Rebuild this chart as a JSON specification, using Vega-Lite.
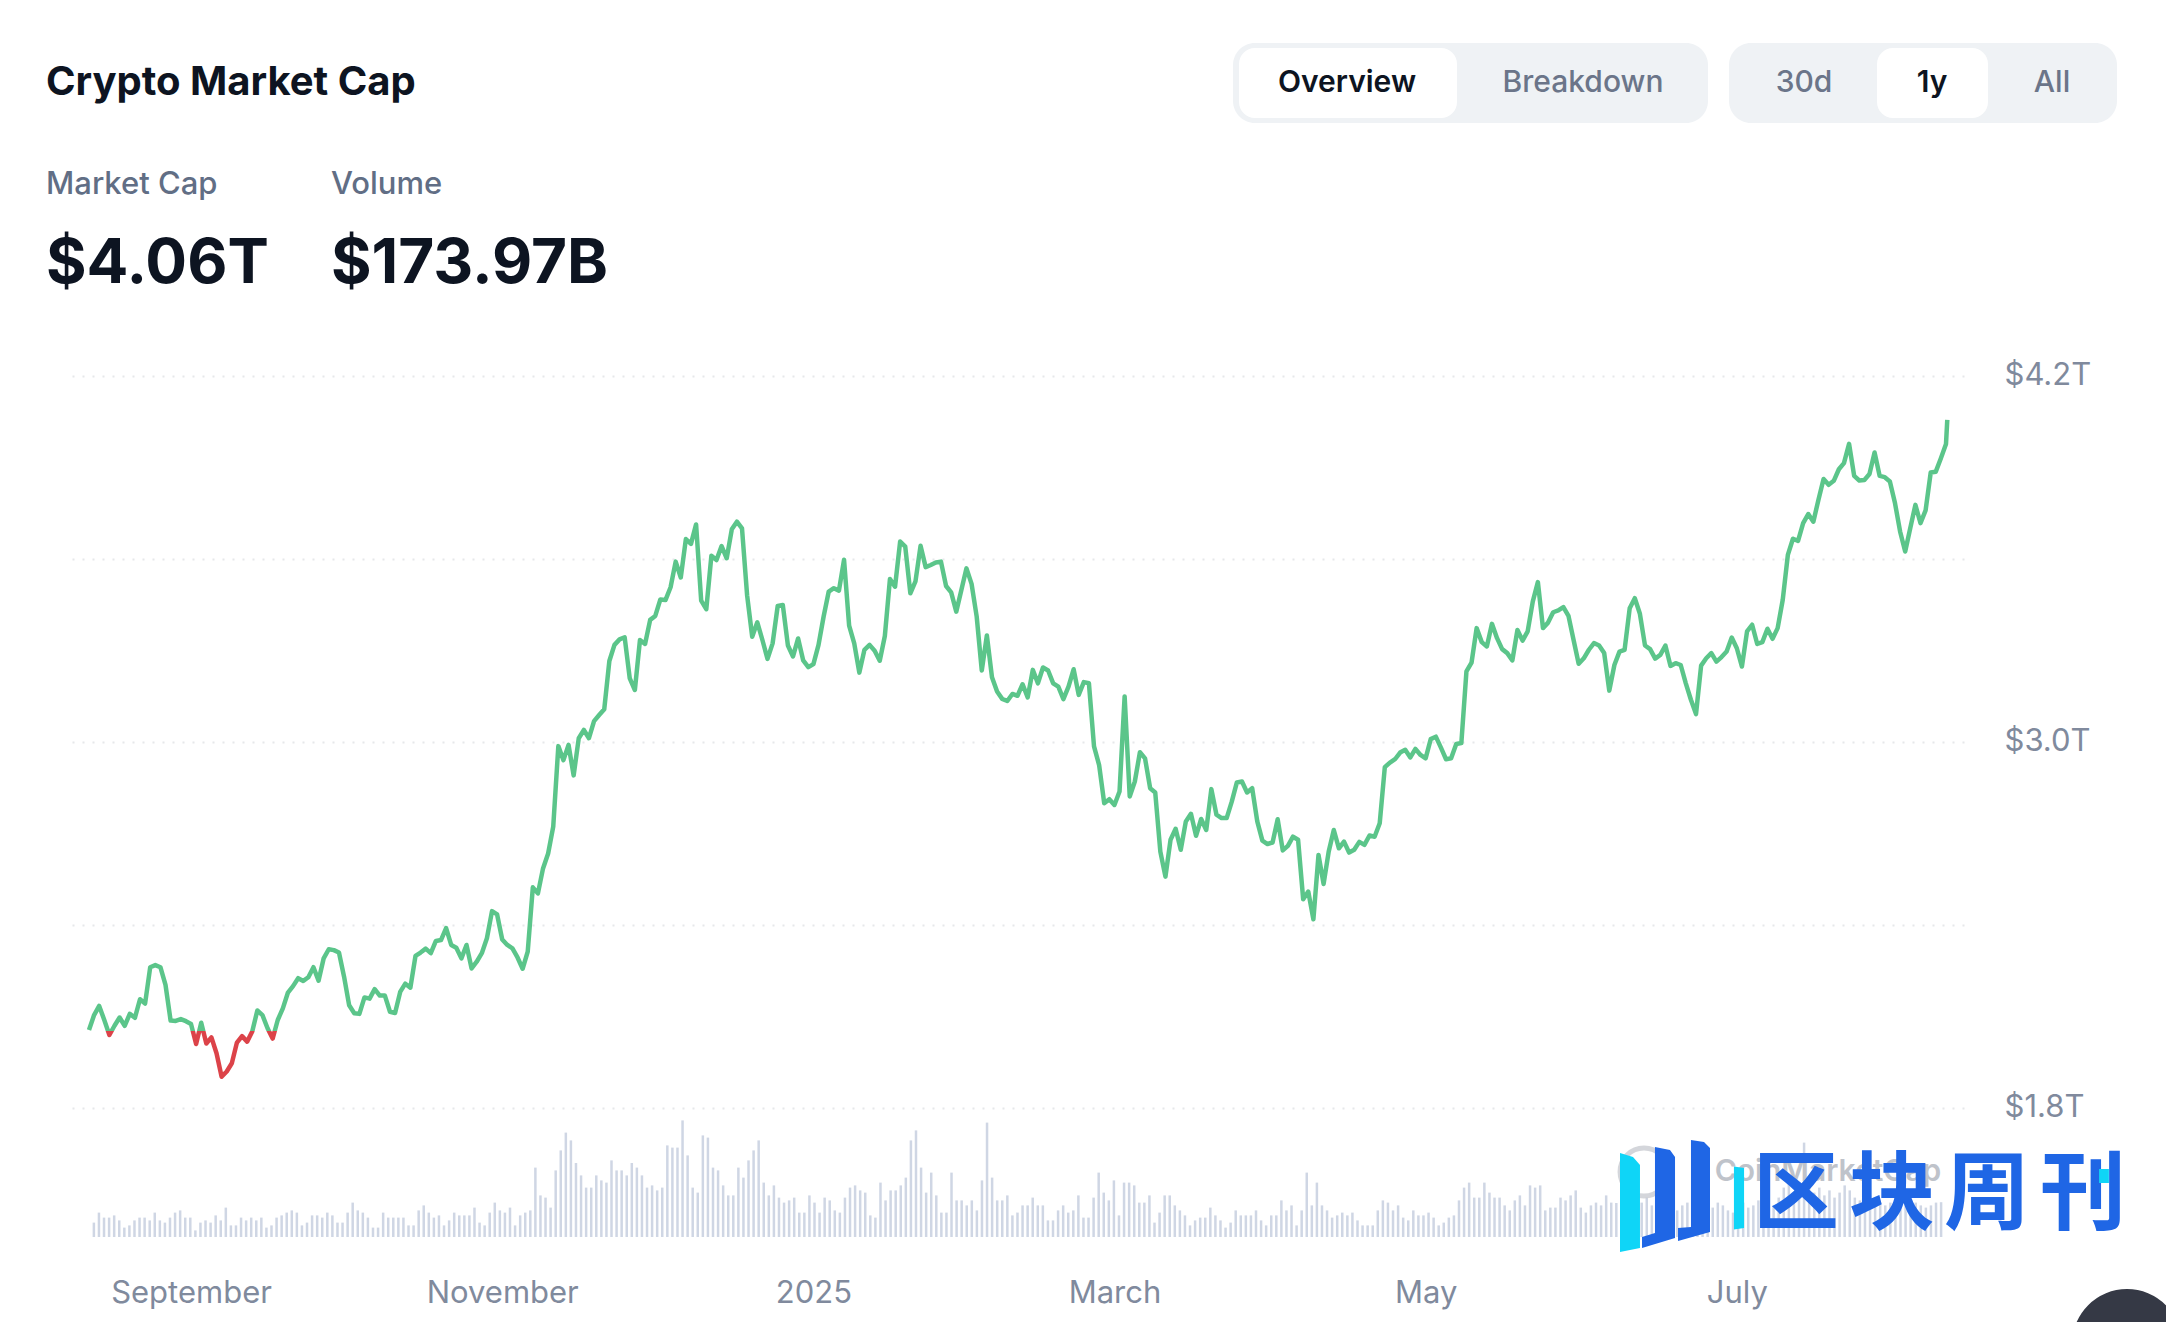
{
  "$schema": "https://vega.github.io/schema/vega-lite/v6.json",
  "width": 1895,
  "height": 1237,
  "autosize": "none",
  "padding": {"left": 69, "top": 0, "right": 202, "bottom": 85},
  "background": "#ffffff",
  "datasets": {
    "market": [
      {"date":"2024-08-12","cap":2.054,"vol":72},{"date":"2024-08-13","cap":2.103,"vol":122},{"date":"2024-08-14","cap":2.133,"vol":97},{"date":"2024-08-15","cap":2.087,"vol":97},{"date":"2024-08-16","cap":2.038,"vol":108},{"date":"2024-08-17","cap":2.068,"vol":83},{"date":"2024-08-18","cap":2.095,"vol":47},{"date":"2024-08-19","cap":2.068,"vol":58},{"date":"2024-08-20","cap":2.107,"vol":83},{"date":"2024-08-21","cap":2.094,"vol":97},{"date":"2024-08-22","cap":2.155,"vol":97},{"date":"2024-08-23","cap":2.141,"vol":83},{"date":"2024-08-24","cap":2.26,"vol":122},{"date":"2024-08-25","cap":2.267,"vol":83},{"date":"2024-08-26","cap":2.26,"vol":72},{"date":"2024-08-27","cap":2.202,"vol":97},{"date":"2024-08-28","cap":2.085,"vol":122},{"date":"2024-08-29","cap":2.084,"vol":133},{"date":"2024-08-30","cap":2.09,"vol":97},{"date":"2024-08-31","cap":2.083,"vol":97},
      {"date":"2024-09-01","cap":2.074,"vol":33},{"date":"2024-09-02","cap":2.008,"vol":72},{"date":"2024-09-03","cap":2.078,"vol":83},{"date":"2024-09-04","cap":2.01,"vol":72},{"date":"2024-09-05","cap":2.03,"vol":108},{"date":"2024-09-06","cap":1.978,"vol":83},{"date":"2024-09-07","cap":1.901,"vol":147},{"date":"2024-09-08","cap":1.918,"vol":58},{"date":"2024-09-09","cap":1.945,"vol":58},{"date":"2024-09-10","cap":2.013,"vol":97},{"date":"2024-09-11","cap":2.034,"vol":83},{"date":"2024-09-12","cap":2.016,"vol":97},{"date":"2024-09-13","cap":2.049,"vol":83},{"date":"2024-09-14","cap":2.118,"vol":97},{"date":"2024-09-15","cap":2.103,"vol":47},{"date":"2024-09-16","cap":2.06,"vol":58},{"date":"2024-09-17","cap":2.026,"vol":97},{"date":"2024-09-18","cap":2.087,"vol":108},{"date":"2024-09-19","cap":2.125,"vol":122},{"date":"2024-09-20","cap":2.177,"vol":133},{"date":"2024-09-21","cap":2.198,"vol":122},{"date":"2024-09-22","cap":2.224,"vol":58},{"date":"2024-09-23","cap":2.215,"vol":72},{"date":"2024-09-24","cap":2.227,"vol":108},{"date":"2024-09-25","cap":2.26,"vol":108},{"date":"2024-09-26","cap":2.216,"vol":97},{"date":"2024-09-27","cap":2.289,"vol":122},{"date":"2024-09-28","cap":2.319,"vol":108},{"date":"2024-09-29","cap":2.316,"vol":72},{"date":"2024-09-30","cap":2.308,"vol":72},
      {"date":"2024-10-01","cap":2.229,"vol":122},{"date":"2024-10-02","cap":2.135,"vol":172},{"date":"2024-10-03","cap":2.109,"vol":133},{"date":"2024-10-04","cap":2.107,"vol":122},{"date":"2024-10-05","cap":2.161,"vol":97},{"date":"2024-10-06","cap":2.157,"vol":47},{"date":"2024-10-07","cap":2.188,"vol":47},{"date":"2024-10-08","cap":2.167,"vol":122},{"date":"2024-10-09","cap":2.167,"vol":97},{"date":"2024-10-10","cap":2.114,"vol":97},{"date":"2024-10-11","cap":2.11,"vol":97},{"date":"2024-10-12","cap":2.179,"vol":97},{"date":"2024-10-13","cap":2.206,"vol":58},{"date":"2024-10-14","cap":2.193,"vol":58},{"date":"2024-10-15","cap":2.297,"vol":133},{"date":"2024-10-16","cap":2.308,"vol":158},{"date":"2024-10-17","cap":2.321,"vol":122},{"date":"2024-10-18","cap":2.306,"vol":97},{"date":"2024-10-19","cap":2.346,"vol":108},{"date":"2024-10-20","cap":2.349,"vol":58},{"date":"2024-10-21","cap":2.388,"vol":83},{"date":"2024-10-22","cap":2.333,"vol":122},{"date":"2024-10-23","cap":2.324,"vol":108},{"date":"2024-10-24","cap":2.289,"vol":108},{"date":"2024-10-25","cap":2.333,"vol":108},{"date":"2024-10-26","cap":2.256,"vol":147},{"date":"2024-10-27","cap":2.278,"vol":72},{"date":"2024-10-28","cap":2.306,"vol":58},{"date":"2024-10-29","cap":2.355,"vol":122},{"date":"2024-10-30","cap":2.444,"vol":172},{"date":"2024-10-31","cap":2.433,"vol":133},
      {"date":"2024-11-01","cap":2.351,"vol":122},{"date":"2024-11-02","cap":2.333,"vol":147},{"date":"2024-11-03","cap":2.322,"vol":58},{"date":"2024-11-04","cap":2.292,"vol":108},{"date":"2024-11-05","cap":2.255,"vol":122},{"date":"2024-11-06","cap":2.311,"vol":133},{"date":"2024-11-07","cap":2.522,"vol":347},{"date":"2024-11-08","cap":2.502,"vol":208},{"date":"2024-11-09","cap":2.584,"vol":197},{"date":"2024-11-10","cap":2.633,"vol":147},{"date":"2024-11-11","cap":2.721,"vol":333},{"date":"2024-11-12","cap":2.985,"vol":433},{"date":"2024-11-13","cap":2.939,"vol":522},{"date":"2024-11-14","cap":2.989,"vol":483},{"date":"2024-11-15","cap":2.889,"vol":370},{"date":"2024-11-16","cap":3.011,"vol":308},{"date":"2024-11-17","cap":3.038,"vol":247},{"date":"2024-11-18","cap":3.011,"vol":247},{"date":"2024-11-19","cap":3.067,"vol":308},{"date":"2024-11-20","cap":3.087,"vol":283},{"date":"2024-11-21","cap":3.106,"vol":272},{"date":"2024-11-22","cap":3.264,"vol":383},{"date":"2024-11-23","cap":3.317,"vol":333},{"date":"2024-11-24","cap":3.335,"vol":333},{"date":"2024-11-25","cap":3.342,"vol":308},{"date":"2024-11-26","cap":3.207,"vol":370},{"date":"2024-11-27","cap":3.169,"vol":347},{"date":"2024-11-28","cap":3.333,"vol":308},{"date":"2024-11-29","cap":3.32,"vol":247},{"date":"2024-11-30","cap":3.399,"vol":258},
      {"date":"2024-12-01","cap":3.412,"vol":233},{"date":"2024-12-02","cap":3.466,"vol":247},{"date":"2024-12-03","cap":3.464,"vol":458},{"date":"2024-12-04","cap":3.506,"vol":447},{"date":"2024-12-05","cap":3.59,"vol":447},{"date":"2024-12-06","cap":3.538,"vol":583},{"date":"2024-12-07","cap":3.664,"vol":408},{"date":"2024-12-08","cap":3.648,"vol":247},{"date":"2024-12-09","cap":3.712,"vol":222},{"date":"2024-12-10","cap":3.462,"vol":508},{"date":"2024-12-11","cap":3.434,"vol":497},{"date":"2024-12-12","cap":3.609,"vol":347},{"date":"2024-12-13","cap":3.595,"vol":333},{"date":"2024-12-14","cap":3.641,"vol":258},{"date":"2024-12-15","cap":3.601,"vol":208},{"date":"2024-12-16","cap":3.696,"vol":208},{"date":"2024-12-17","cap":3.721,"vol":347},{"date":"2024-12-18","cap":3.699,"vol":297},{"date":"2024-12-19","cap":3.48,"vol":383},{"date":"2024-12-20","cap":3.344,"vol":433},{"date":"2024-12-21","cap":3.391,"vol":483},{"date":"2024-12-22","cap":3.333,"vol":272},{"date":"2024-12-23","cap":3.271,"vol":208},{"date":"2024-12-24","cap":3.322,"vol":258},{"date":"2024-12-25","cap":3.445,"vol":197},{"date":"2024-12-26","cap":3.448,"vol":172},{"date":"2024-12-27","cap":3.315,"vol":183},{"date":"2024-12-28","cap":3.279,"vol":197},{"date":"2024-12-29","cap":3.338,"vol":122},{"date":"2024-12-30","cap":3.266,"vol":122},{"date":"2024-12-31","cap":3.244,"vol":208},
      {"date":"2025-01-01","cap":3.254,"vol":172},{"date":"2025-01-02","cap":3.317,"vol":122},{"date":"2025-01-03","cap":3.41,"vol":197},{"date":"2025-01-04","cap":3.492,"vol":183},{"date":"2025-01-05","cap":3.503,"vol":133},{"date":"2025-01-06","cap":3.495,"vol":122},{"date":"2025-01-07","cap":3.596,"vol":197},{"date":"2025-01-08","cap":3.38,"vol":247},{"date":"2025-01-09","cap":3.322,"vol":258},{"date":"2025-01-10","cap":3.226,"vol":233},{"date":"2025-01-11","cap":3.301,"vol":222},{"date":"2025-01-12","cap":3.317,"vol":108},{"date":"2025-01-13","cap":3.298,"vol":97},{"date":"2025-01-14","cap":3.265,"vol":272},{"date":"2025-01-15","cap":3.346,"vol":183},{"date":"2025-01-16","cap":3.533,"vol":233},{"date":"2025-01-17","cap":3.508,"vol":233},{"date":"2025-01-18","cap":3.656,"vol":258},{"date":"2025-01-19","cap":3.639,"vol":297},{"date":"2025-01-20","cap":3.486,"vol":483},{"date":"2025-01-21","cap":3.525,"vol":533},{"date":"2025-01-22","cap":3.642,"vol":347},{"date":"2025-01-23","cap":3.572,"vol":222},{"date":"2025-01-24","cap":3.579,"vol":322},{"date":"2025-01-25","cap":3.587,"vol":208},{"date":"2025-01-26","cap":3.59,"vol":122},{"date":"2025-01-27","cap":3.51,"vol":122},{"date":"2025-01-28","cap":3.489,"vol":322},{"date":"2025-01-29","cap":3.426,"vol":183},{"date":"2025-01-30","cap":3.497,"vol":183},{"date":"2025-01-31","cap":3.568,"vol":158},
      {"date":"2025-02-01","cap":3.517,"vol":183},{"date":"2025-02-02","cap":3.41,"vol":133},{"date":"2025-02-03","cap":3.233,"vol":283},{"date":"2025-02-04","cap":3.348,"vol":572},{"date":"2025-02-05","cap":3.211,"vol":297},{"date":"2025-02-06","cap":3.164,"vol":183},{"date":"2025-02-07","cap":3.14,"vol":183},{"date":"2025-02-08","cap":3.133,"vol":208},{"date":"2025-02-09","cap":3.156,"vol":108},{"date":"2025-02-10","cap":3.15,"vol":122},{"date":"2025-02-11","cap":3.188,"vol":158},{"date":"2025-02-12","cap":3.145,"vol":158},{"date":"2025-02-13","cap":3.235,"vol":197},{"date":"2025-02-14","cap":3.191,"vol":158},{"date":"2025-02-15","cap":3.243,"vol":158},{"date":"2025-02-16","cap":3.233,"vol":83},{"date":"2025-02-17","cap":3.191,"vol":83},{"date":"2025-02-18","cap":3.18,"vol":133},{"date":"2025-02-19","cap":3.139,"vol":158},{"date":"2025-02-20","cap":3.18,"vol":122},{"date":"2025-02-21","cap":3.237,"vol":133},{"date":"2025-02-22","cap":3.153,"vol":208},{"date":"2025-02-23","cap":3.195,"vol":97},{"date":"2025-02-24","cap":3.191,"vol":97},{"date":"2025-02-25","cap":2.984,"vol":197},{"date":"2025-02-26","cap":2.923,"vol":322},{"date":"2025-02-27","cap":2.798,"vol":222},{"date":"2025-02-28","cap":2.811,"vol":183},
      {"date":"2025-03-01","cap":2.792,"vol":283},{"date":"2025-03-02","cap":2.836,"vol":108},{"date":"2025-03-03","cap":3.148,"vol":272},{"date":"2025-03-04","cap":2.82,"vol":272},{"date":"2025-03-05","cap":2.869,"vol":258},{"date":"2025-03-06","cap":2.965,"vol":172},{"date":"2025-03-07","cap":2.945,"vol":172},{"date":"2025-03-08","cap":2.847,"vol":208},{"date":"2025-03-09","cap":2.833,"vol":72},{"date":"2025-03-10","cap":2.639,"vol":122},{"date":"2025-03-11","cap":2.557,"vol":208},{"date":"2025-03-12","cap":2.678,"vol":208},{"date":"2025-03-13","cap":2.714,"vol":158},{"date":"2025-03-14","cap":2.645,"vol":133},{"date":"2025-03-15","cap":2.738,"vol":108},{"date":"2025-03-16","cap":2.763,"vol":58},{"date":"2025-03-17","cap":2.691,"vol":83},{"date":"2025-03-18","cap":2.746,"vol":97},{"date":"2025-03-19","cap":2.71,"vol":97},{"date":"2025-03-20","cap":2.844,"vol":147},{"date":"2025-03-21","cap":2.76,"vol":108},{"date":"2025-03-22","cap":2.749,"vol":83},{"date":"2025-03-23","cap":2.749,"vol":47},{"date":"2025-03-24","cap":2.803,"vol":72},{"date":"2025-03-25","cap":2.866,"vol":133},{"date":"2025-03-26","cap":2.869,"vol":108},{"date":"2025-03-27","cap":2.833,"vol":108},{"date":"2025-03-28","cap":2.847,"vol":108},{"date":"2025-03-29","cap":2.738,"vol":133},{"date":"2025-03-30","cap":2.675,"vol":83},{"date":"2025-03-31","cap":2.664,"vol":58},
      {"date":"2025-04-01","cap":2.669,"vol":108},{"date":"2025-04-02","cap":2.745,"vol":108},{"date":"2025-04-03","cap":2.643,"vol":183},{"date":"2025-04-04","cap":2.658,"vol":133},{"date":"2025-04-05","cap":2.688,"vol":158},{"date":"2025-04-06","cap":2.678,"vol":58},{"date":"2025-04-07","cap":2.483,"vol":133},{"date":"2025-04-08","cap":2.508,"vol":322},{"date":"2025-04-09","cap":2.417,"vol":158},{"date":"2025-04-10","cap":2.628,"vol":272},{"date":"2025-04-11","cap":2.533,"vol":158},{"date":"2025-04-12","cap":2.639,"vol":133},{"date":"2025-04-13","cap":2.71,"vol":97},{"date":"2025-04-14","cap":2.65,"vol":108},{"date":"2025-04-15","cap":2.672,"vol":122},{"date":"2025-04-16","cap":2.636,"vol":108},{"date":"2025-04-17","cap":2.645,"vol":122},{"date":"2025-04-18","cap":2.671,"vol":83},{"date":"2025-04-19","cap":2.661,"vol":58},{"date":"2025-04-20","cap":2.692,"vol":58},{"date":"2025-04-21","cap":2.688,"vol":58},{"date":"2025-04-22","cap":2.732,"vol":133},{"date":"2025-04-23","cap":2.916,"vol":183},{"date":"2025-04-24","cap":2.931,"vol":172},{"date":"2025-04-25","cap":2.942,"vol":133},{"date":"2025-04-26","cap":2.964,"vol":158},{"date":"2025-04-27","cap":2.973,"vol":97},{"date":"2025-04-28","cap":2.948,"vol":83},{"date":"2025-04-29","cap":2.976,"vol":133},{"date":"2025-04-30","cap":2.956,"vol":108},
      {"date":"2025-05-01","cap":2.945,"vol":108},{"date":"2025-05-02","cap":3.008,"vol":122},{"date":"2025-05-03","cap":3.016,"vol":97},{"date":"2025-05-04","cap":2.98,"vol":58},{"date":"2025-05-05","cap":2.942,"vol":72},{"date":"2025-05-06","cap":2.945,"vol":97},{"date":"2025-05-07","cap":2.992,"vol":108},{"date":"2025-05-08","cap":2.995,"vol":183},{"date":"2025-05-09","cap":3.23,"vol":247},{"date":"2025-05-10","cap":3.259,"vol":272},{"date":"2025-05-11","cap":3.372,"vol":197},{"date":"2025-05-12","cap":3.326,"vol":197},{"date":"2025-05-13","cap":3.312,"vol":272},{"date":"2025-05-14","cap":3.386,"vol":222},{"date":"2025-05-15","cap":3.339,"vol":197},{"date":"2025-05-16","cap":3.303,"vol":197},{"date":"2025-05-17","cap":3.29,"vol":158},{"date":"2025-05-18","cap":3.266,"vol":133},{"date":"2025-05-19","cap":3.366,"vol":183},{"date":"2025-05-20","cap":3.331,"vol":208},{"date":"2025-05-21","cap":3.361,"vol":158},{"date":"2025-05-22","cap":3.459,"vol":258},{"date":"2025-05-23","cap":3.523,"vol":247},{"date":"2025-05-24","cap":3.372,"vol":258},{"date":"2025-05-25","cap":3.39,"vol":133},{"date":"2025-05-26","cap":3.424,"vol":147},{"date":"2025-05-27","cap":3.43,"vol":147},{"date":"2025-05-28","cap":3.441,"vol":197},{"date":"2025-05-29","cap":3.412,"vol":183},{"date":"2025-05-30","cap":3.333,"vol":208},{"date":"2025-05-31","cap":3.255,"vol":233},
      {"date":"2025-06-01","cap":3.273,"vol":147},{"date":"2025-06-02","cap":3.301,"vol":122},{"date":"2025-06-03","cap":3.323,"vol":158},{"date":"2025-06-04","cap":3.315,"vol":172},{"date":"2025-06-05","cap":3.29,"vol":158},{"date":"2025-06-06","cap":3.167,"vol":208},{"date":"2025-06-07","cap":3.251,"vol":172},{"date":"2025-06-08","cap":3.295,"vol":170},{"date":"2025-06-09","cap":3.301,"vol":183},{"date":"2025-06-10","cap":3.437,"vol":208},{"date":"2025-06-11","cap":3.47,"vol":158},{"date":"2025-06-12","cap":3.419,"vol":133},{"date":"2025-06-13","cap":3.315,"vol":172},{"date":"2025-06-14","cap":3.303,"vol":197},{"date":"2025-06-15","cap":3.272,"vol":158},{"date":"2025-06-16","cap":3.284,"vol":183},{"date":"2025-06-17","cap":3.315,"vol":147},{"date":"2025-06-18","cap":3.248,"vol":158},{"date":"2025-06-19","cap":3.257,"vol":172},{"date":"2025-06-20","cap":3.251,"vol":133},{"date":"2025-06-21","cap":3.191,"vol":158},{"date":"2025-06-22","cap":3.137,"vol":172},{"date":"2025-06-23","cap":3.09,"vol":147},{"date":"2025-06-24","cap":3.249,"vol":133},{"date":"2025-06-25","cap":3.273,"vol":183},{"date":"2025-06-26","cap":3.29,"vol":158},{"date":"2025-06-27","cap":3.262,"vol":147},{"date":"2025-06-28","cap":3.277,"vol":172},{"date":"2025-06-29","cap":3.295,"vol":158},{"date":"2025-06-30","cap":3.341,"vol":133},
      {"date":"2025-07-01","cap":3.306,"vol":122},{"date":"2025-07-02","cap":3.246,"vol":147},{"date":"2025-07-03","cap":3.361,"vol":172},{"date":"2025-07-04","cap":3.383,"vol":147},{"date":"2025-07-05","cap":3.32,"vol":158},{"date":"2025-07-06","cap":3.326,"vol":183},{"date":"2025-07-07","cap":3.37,"vol":208},{"date":"2025-07-08","cap":3.337,"vol":172},{"date":"2025-07-09","cap":3.372,"vol":158},{"date":"2025-07-10","cap":3.465,"vol":197},{"date":"2025-07-11","cap":3.612,"vol":247},{"date":"2025-07-12","cap":3.665,"vol":272},{"date":"2025-07-13","cap":3.658,"vol":208},{"date":"2025-07-14","cap":3.716,"vol":233},{"date":"2025-07-15","cap":3.746,"vol":472},{"date":"2025-07-16","cap":3.721,"vol":258},{"date":"2025-07-17","cap":3.793,"vol":222},{"date":"2025-07-18","cap":3.861,"vol":247},{"date":"2025-07-19","cap":3.842,"vol":208},{"date":"2025-07-20","cap":3.855,"vol":233},{"date":"2025-07-21","cap":3.893,"vol":197},{"date":"2025-07-22","cap":3.913,"vol":222},{"date":"2025-07-23","cap":3.976,"vol":258},{"date":"2025-07-24","cap":3.871,"vol":233},{"date":"2025-07-25","cap":3.856,"vol":197},{"date":"2025-07-26","cap":3.858,"vol":183},{"date":"2025-07-27","cap":3.877,"vol":172},{"date":"2025-07-28","cap":3.948,"vol":208},{"date":"2025-07-29","cap":3.871,"vol":183},{"date":"2025-07-30","cap":3.867,"vol":172},{"date":"2025-07-31","cap":3.853,"vol":158},
      {"date":"2025-08-01","cap":3.782,"vol":172},{"date":"2025-08-02","cap":3.689,"vol":208},{"date":"2025-08-03","cap":3.623,"vol":233},{"date":"2025-08-04","cap":3.7,"vol":197},{"date":"2025-08-05","cap":3.776,"vol":183},{"date":"2025-08-06","cap":3.716,"vol":172},{"date":"2025-08-07","cap":3.758,"vol":158},{"date":"2025-08-08","cap":3.882,"vol":147},{"date":"2025-08-09","cap":3.885,"vol":158},{"date":"2025-08-10","cap":3.929,"vol":172},{"date":"2025-08-11","cap":3.976,"vol":174},{"date":"2025-08-11T06:00:00Z","cap":4.055,"vol":null}
    ],
    "ui": [
      {"role":"pill","col":2,"col2":7,"row":3,"row2":4},
      {"role":"pill","col":8,"col2":14,"row":3,"row2":4},
      {"role":"active","col":3,"col2":5,"row":5,"row2":6},
      {"role":"active","col":10,"col2":12,"row":5,"row2":6},
      {"role":"title","label":"Crypto Market Cap","col":0,"row":0},
      {"role":"metric","label":"Market Cap","col":0,"row":1},
      {"role":"metric","label":"Volume","col":1,"row":1},
      {"role":"figure","label":"$4.06T","col":0,"row":2},
      {"role":"figure","label":"$173.97B","col":1,"row":2},
      {"role":"on","label":"Overview","col":4,"row":0},
      {"role":"on","label":"1y","col":11,"row":0},
      {"role":"off","label":"Breakdown","col":6,"row":0},
      {"role":"off","label":"30d","col":9,"row":0},
      {"role":"off","label":"All","col":13,"row":0},
      {"role":"ring","col":16,"row":8},
      {"role":"mark","label":"CoinMarketCap","col":17,"row":8},
      {"role":"icon","col":15,"row":7},
      {"role":"accent","col":22,"row":10},
      {"role":"dot","col":23,"row":11},
      {"role":"char","label":"区","col":18,"row":9},
      {"role":"char","label":"块","col":19,"row":9},
      {"role":"char","label":"周","col":20,"row":9},
      {"role":"char","label":"刊","col":21,"row":9},
      {"role":"badge","col":24,"row":12}
    ]
  },
  "layer": [
    {
      "data": {"name": "market"},
      "mark": {"type": "bar", "size": 2.5, "color": "#cfd6e4"},
      "encoding": {
        "x": {"field": "date", "type": "temporal", "axis": null, "scale": {"type": "utc", "domain": ["2024-08-08T02:00:00Z", "2025-08-14T12:40:00Z"]}},
        "y": {"field": "vol", "type": "quantitative", "axis": null, "scale": {"domain": [0, 585], "range": [1237, 1120], "nice": false, "zero": false}}
      }
    },
    {
      "data": {"name": "market"},
      "mark": {
        "type": "line",
        "strokeWidth": 4.5,
        "strokeJoin": "round",
        "stroke": {
          "gradient": "linear", "x1": 0, "y1": 0, "x2": 0, "y2": 1,
          "stops": [
            {"offset": 0, "color": "#5bc58a"},
            {"offset": 0.93, "color": "#5bc58a"},
            {"offset": 0.93, "color": "#dc4349"},
            {"offset": 1, "color": "#dc4349"}
          ]
        }
      },
      "encoding": {
        "x": {
          "field": "date", "type": "temporal", "title": null,
          "scale": {"type": "utc", "domain": ["2024-08-08T02:00:00Z", "2025-08-14T12:40:00Z"]},
          "axis": {
            "values": ["2024-09-01", "2024-11-01", "2025-01-01", "2025-03-01", "2025-05-01", "2025-07-01"],
            "format": "%b %Y", "formatType": "utc",
            "domain": false, "ticks": false, "grid": false,
            "labelFont": "Inter", "labelFontSize": 31, "labelColor": "#808a9d", "labelPadding": 41, "labelBaseline": "top", "labelOverlap": false, "labelBound": false, "labelFlush": false
          }
        },
        "y": {
          "field": "cap", "type": "quantitative", "title": null,
          "scale": {"domain": [1.8, 4.2], "range": [1107.5, 375.6], "nice": false, "zero": false},
          "axis": {
            "orient": "right",
            "values": [1.8, 2.4, 3, 3.6, 4.2],
            "labelExpr": "datum.value == 2.4 || datum.value == 3.6 ? '' : '$' + format(datum.value, '.1f') + 'T'",
            "domain": false, "ticks": false, "grid": true,
            "gridColor": "#e6e8ea", "gridWidth": 2, "gridDash": [2, 8],
            "labelFont": "Inter", "labelFontSize": 31, "labelColor": "#808a9d", "labelPadding": 40, "labelAlign": "left", "labelOverlap": false, "labelBound": false
          }
        }
      }
    },
    {
      "data": {"name": "ui"},
      "encoding": {
        "x": {
          "field": "col", "type": "quantitative", "axis": null,
          "scale": {
            "domain": [0, 1, 2, 3, 4, 5, 6, 7, 8, 9, 10, 11, 12, 13, 14, 15, 16, 17, 18, 19, 20, 21, 22, 23, 24],
            "range": [-23, 262, 1164, 1170, 1278, 1388, 1514, 1639, 1660, 1735, 1808, 1863, 1919, 1983, 2048, 1596, 1575, 1759, 1727, 1823, 1918, 2014, 1670, 2035, 2058]
          }
        },
        "y": {
          "field": "row", "type": "quantitative", "axis": null,
          "scale": {
            "domain": [0, 1, 2, 3, 4, 5, 6, 7, 8, 9, 10, 11, 12],
            "range": [83, 185, 264, 43, 123, 48, 118, 1197, 1172, 1197, 1198, 1176, 1344]
          }
        }
      },
      "layer": [
        {
          "transform": [{"filter": "datum.role == 'pill'"}],
          "mark": {"type": "rect", "color": "#eff2f5", "cornerRadius": 22},
          "encoding": {"x2": {"field": "col2"}, "y2": {"field": "row2"}}
        },
        {
          "transform": [{"filter": "datum.role == 'active'"}],
          "mark": {"type": "rect", "color": "#ffffff", "cornerRadius": 16},
          "encoding": {"x2": {"field": "col2"}, "y2": {"field": "row2"}}
        },
        {
          "transform": [{"filter": "datum.role == 'title'"}],
          "mark": {"type": "text", "align": "left", "baseline": "middle", "font": "Inter", "fontSize": 40, "fontWeight": 700, "color": "#0d1421"},
          "encoding": {"text": {"field": "label"}}
        },
        {
          "transform": [{"filter": "datum.role == 'metric'"}],
          "mark": {"type": "text", "align": "left", "baseline": "middle", "font": "Inter", "fontSize": 31, "fontWeight": 500, "color": "#616e85"},
          "encoding": {"text": {"field": "label"}}
        },
        {
          "transform": [{"filter": "datum.role == 'figure'"}],
          "mark": {"type": "text", "align": "left", "baseline": "middle", "font": "Inter", "fontSize": 62, "fontWeight": 700, "color": "#0d1421"},
          "encoding": {"text": {"field": "label"}}
        },
        {
          "transform": [{"filter": "datum.role == 'on'"}],
          "mark": {"type": "text", "align": "center", "baseline": "middle", "font": "Inter", "fontSize": 30, "fontWeight": 600, "color": "#0d1421"},
          "encoding": {"text": {"field": "label"}}
        },
        {
          "transform": [{"filter": "datum.role == 'off'"}],
          "mark": {"type": "text", "align": "center", "baseline": "middle", "font": "Inter", "fontSize": 30, "fontWeight": 500, "color": "#6b7589"},
          "encoding": {"text": {"field": "label"}}
        },
        {
          "transform": [{"filter": "datum.role == 'ring'"}],
          "mark": {"type": "point", "shape": "circle", "size": 2290, "filled": false, "stroke": "#c3c6cc", "strokeWidth": 5}
        },
        {
          "transform": [{"filter": "datum.role == 'mark'"}],
          "mark": {"type": "text", "align": "center", "baseline": "middle", "font": "Inter", "fontSize": 30, "fontWeight": 600, "color": "#bfc3ca"},
          "encoding": {"text": {"field": "label"}}
        },
        {
          "transform": [{"filter": "datum.role == 'icon'"}],
          "mark": {"type": "point", "filled": true, "opacity": 1, "size": 14400, "color": "#0fd5f7", "strokeWidth": 0, "shape": "M-.75 -.733L-.533 -.667L-.417 -.533L-.417 .85L-.75 .917Z"}
        },
        {
          "transform": [{"filter": "datum.role == 'icon'"}],
          "mark": {"type": "point", "filled": true, "opacity": 1, "size": 14400, "color": "#1f66e5", "strokeWidth": 0, "shape": "M-.167 -.833L.083 -.783L.167 -.667L.167 .683L-.383 .85L-.383 .667L-.167 .6ZM.433 -.95L.65 -.917L.75 -.817L.75 .583L.217 .733L.217 .517L.433 .5Z"}
        },
        {
          "transform": [{"filter": "datum.role == 'char'"}],
          "mark": {"type": "text", "align": "center", "baseline": "middle", "font": "Noto Sans CJK SC", "fontSize": 86, "fontWeight": 700, "color": "#1f66e5"},
          "encoding": {"text": {"field": "label"}}
        },
        {
          "transform": [{"filter": "datum.role == 'accent'"}],
          "mark": {"type": "point", "filled": true, "opacity": 1, "size": 4000, "color": "#0fd5f7", "strokeWidth": 0, "shape": "M-.16 -1L.16 -.95L.16 .95L-.16 1Z"}
        },
        {
          "transform": [{"filter": "datum.role == 'dot'"}],
          "mark": {"type": "point", "filled": true, "opacity": 1, "size": 196, "color": "#0fd5f7", "strokeWidth": 0, "shape": "M-.7 -1L.7 -1L.7 1L-.7 1Z"}
        },
        {
          "transform": [{"filter": "datum.role == 'badge'"}],
          "mark": {"type": "point", "shape": "circle", "filled": true, "opacity": 1, "size": 12076, "color": "#353945", "strokeWidth": 0}
        }
      ]
    }
  ],
  "resolve": {"scale": {"x": "independent", "y": "independent"}},
  "config": {"view": {"stroke": null}}
}
